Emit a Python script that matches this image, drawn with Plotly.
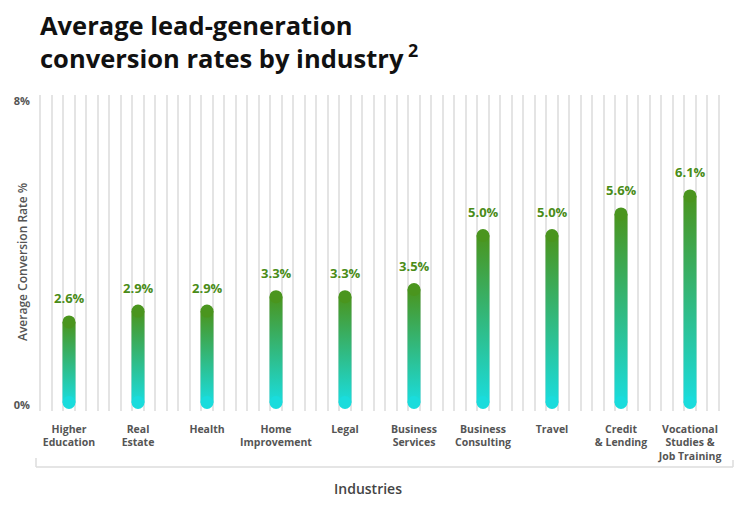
import plotly.graph_objects as go

# ---- data ----
industries = ["Higher<br>Education", "Real<br>Estate", "Health", "Home<br>Improvement", "Legal",
              "Business<br>Services", "Business<br>Consulting", "Travel", "Credit<br>& Lending",
              "Vocational<br>Studies &<br>Job Training"]
rates = [2.6, 2.9, 2.9, 3.3, 3.3, 3.5, 5.0, 5.0, 5.6, 6.1]
rate_labels = ["2.6%", "2.9%", "2.9%", "3.3%", "3.3%", "3.5%", "5.0%", "5.0%", "5.6%", "6.1%"]
y_tick_vals = [0.1, 8.56]
y_tick_text = ["0%", "8%"]
title_text = "Average lead-generation<br>conversion rates by industry<sup> 2</sup>"

# ---- style ----
W, H = 750, 510
ML, MR, MT, MB = 35, 19, 95, 99
PX_X = 69.0          # px per category
PX_Y = 36.0          # px per percent
ZERO_PX = 409        # pixel row of value 0
x_range = [-34 / PX_X, -34 / PX_X + (W - ML - MR) / PX_X]
y_range = [-(H - MB - ZERO_PX) / PX_Y, (ZERO_PX - MT) / PX_Y]
GREEN = "#4a951e"
CYAN = "#1adcdc"
LABEL_GREEN = "#4a8c18"
GREY = "#555555"
BAR_PX = 13
half_w = BAR_PX / 2 / PX_X
r_y = BAR_PX / 2 / PX_Y

def px_to_paper_x(px):
    return (px - ML) / (W - ML - MR)

def px_to_paper_y(py):
    return (H - MB - py) / (H - MT - MB)

fig = go.Figure()

for i, v in enumerate(rates):
    fig.add_trace(go.Scatter(
        x=[i - half_w, i + half_w, i + half_w, i - half_w, i - half_w],
        y=[r_y, r_y, v - r_y, v - r_y, r_y],
        mode="lines", line=dict(width=0),
        fill="toself",
        fillgradient=dict(type="vertical", colorscale=[[0, CYAN], [1, GREEN]]),
        hoverinfo="skip", showlegend=False,
    ))

# rounded caps
fig.add_trace(go.Scatter(
    x=list(range(len(rates))), y=[v - r_y for v in rates], mode="markers",
    marker=dict(size=BAR_PX, color=GREEN, line=dict(width=0)),
    hoverinfo="skip", showlegend=False))
fig.add_trace(go.Scatter(
    x=list(range(len(rates))), y=[r_y] * len(rates), mode="markers",
    marker=dict(size=BAR_PX, color=CYAN, line=dict(width=0)),
    hoverinfo="skip", showlegend=False))

annotations = []
for i, (v, t) in enumerate(zip(rates, rate_labels)):
    annotations.append(dict(x=i, y=v, text=t, showarrow=False, yshift=17, yanchor="middle",
                            font=dict(family="Open Sans", size=13, color=LABEL_GREEN, weight="bold")))

annotations.append(dict(xref="paper", yref="paper", x=px_to_paper_x(22), y=px_to_paper_y(262),
                        xanchor="center", yanchor="middle",
                        text="Average Conversion Rate %", textangle=-90, showarrow=False,
                        font=dict(family="Open Sans", size=12, color=GREY, weight=600)))
annotations.append(dict(xref="paper", yref="paper", x=px_to_paper_x(368), y=px_to_paper_y(488),
                        xanchor="center", yanchor="middle",
                        text="Industries", showarrow=False,
                        font=dict(family="Open Sans", size=14, color="#444444", weight=600)))
annotations.append(dict(xref="paper", yref="paper", x=px_to_paper_x(38), y=px_to_paper_y(6),
                        xanchor="left", yanchor="top", align="left", text=title_text, showarrow=False,
                        font=dict(family="Open Sans", size=25.5, color="#111111", weight="bold")))

shapes = [
    dict(type="line", xref="paper", yref="paper",
         x0=px_to_paper_x(36), x1=px_to_paper_x(733), y0=px_to_paper_y(467), y1=px_to_paper_y(467),
         line=dict(color="#dddddd", width=1.5)),
    dict(type="line", xref="paper", yref="paper",
         x0=px_to_paper_x(36), x1=px_to_paper_x(36), y0=px_to_paper_y(467), y1=px_to_paper_y(458),
         line=dict(color="#dddddd", width=1.5)),
    dict(type="line", xref="paper", yref="paper",
         x0=px_to_paper_x(733), x1=px_to_paper_x(733), y0=px_to_paper_y(467), y1=px_to_paper_y(460),
         line=dict(color="#dddddd", width=1.5)),
]

fig.update_layout(
    width=W, height=H,
    margin=dict(l=ML, r=MR, t=MT, b=MB),
    paper_bgcolor="white", plot_bgcolor="white",
    xaxis=dict(range=x_range, tickmode="array", tickvals=list(range(len(industries))),
               ticktext=industries, showgrid=False, zeroline=False, showline=False,
               ticks="", ticklabelstandoff=10,
               tickfont=dict(family="Open Sans", size=10.5, color=GREY, weight="bold"),
               minor=dict(tickmode="linear", tick0=-5 / 12, dtick=1 / 6, showgrid=True,
                          gridcolor="#e4e4e4", gridwidth=1.5, ticks="")),
    yaxis=dict(range=y_range, tickmode="array", tickvals=y_tick_vals, ticktext=y_tick_text,
               showgrid=False, zeroline=False, showline=False, ticks="", ticklabelstandoff=4,
               tickfont=dict(family="Open Sans", size=11, color=GREY, weight="bold")),
    annotations=annotations, shapes=shapes,
)

fig.write_html("out.html")
